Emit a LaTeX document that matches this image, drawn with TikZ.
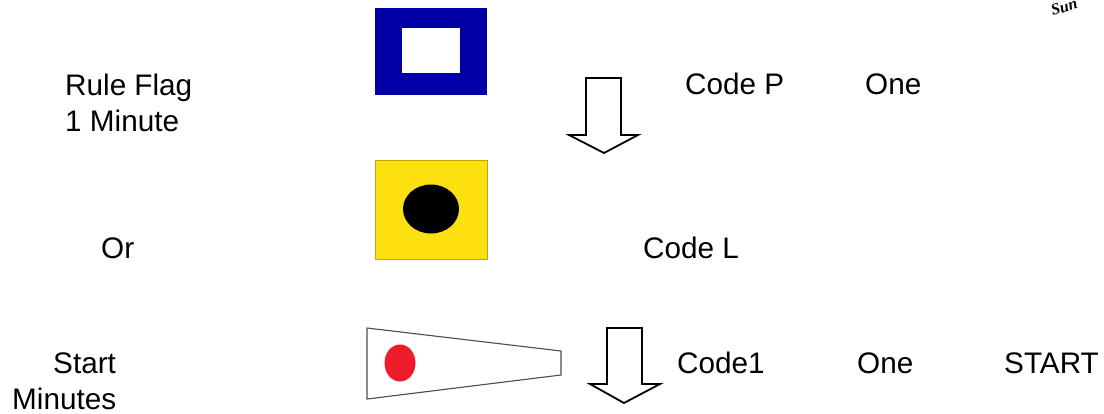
\documentclass[tikz,border=0pt]{standalone}
\usepackage{fontspec}
\setmainfont{Liberation Sans}
\newfontfamily\scribble{Liberation Serif}
\definecolor{flagblue}{HTML}{0000A6}
\definecolor{flagyellow}{HTML}{FCE010}
\definecolor{flagred}{HTML}{EC1C2A}
\tikzset{
  textlabel/.style={anchor=base west, inner sep=0pt, font=\fontsize{29.7}{35}\selectfont},
  downarrow/.style={draw=black, line width=1.8pt, fill=white, line join=miter}
}
\begin{document}
\begin{tikzpicture}[x=1pt, y=-1pt]
    \useasboundingbox (0,0) rectangle (1104,413);

    % Code P flag
    \fill[flagblue] (375,8) rectangle (487,95);
    \fill[white] (402,28) rectangle (460,73);

    % Code L flag
    \draw[fill=flagyellow, draw=flagyellow!75!black] (375,160) rectangle (487,259);
    \fill[black] (431,209) ellipse (28 and 24.5);

    % Code 1 pennant
    \draw[black!70, line width=1.1pt] (367,328) -- (561,351) -- (561,375) -- (367,399) -- cycle;
    \fill[flagred] (400,363) ellipse (15.5 and 18.5);

    % Down arrows
    \draw[downarrow] (586,78) -- (621,78) -- (621,135) -- (638,135) -- (604,153) -- (569,135) -- (586,135) -- cycle;
    \draw[downarrow] (607,328) -- (642,328) -- (642,384) -- (660,384) -- (624,403) -- (590,384) -- (607,384) -- cycle;

    % Left column
    \node[textlabel] (ruleflag) at (65,95) {Rule Flag};
    \node[textlabel] (oneminute) at (65,131) {1 Minute};
    \node[textlabel] (orword) at (101,258) {Or};
    \node[textlabel] (startword) at (53,373) {Start};
    \node[textlabel] (minutes) at (12,409) {Minutes};

    % Right columns
    \node[textlabel] (codep) at (685,94) {Code P};
    \node[textlabel] (onetop) at (865,94) {One};
    \node[textlabel] (codel) at (643,258) {Code L};
    \node[textlabel] (codeone) at (677,373) {Code1};
    \node[textlabel] (onebottom) at (857,373) {One};
    \node[textlabel] (startcol) at (1004,373) {START};

    % Corner scrap
    \node[rotate=17, inner sep=0pt, font=\scribble\itshape\bfseries\fontsize{16}{16}\selectfont] (sunscrap) at (1064,7) {Sun};
\end{tikzpicture}
\end{document}
